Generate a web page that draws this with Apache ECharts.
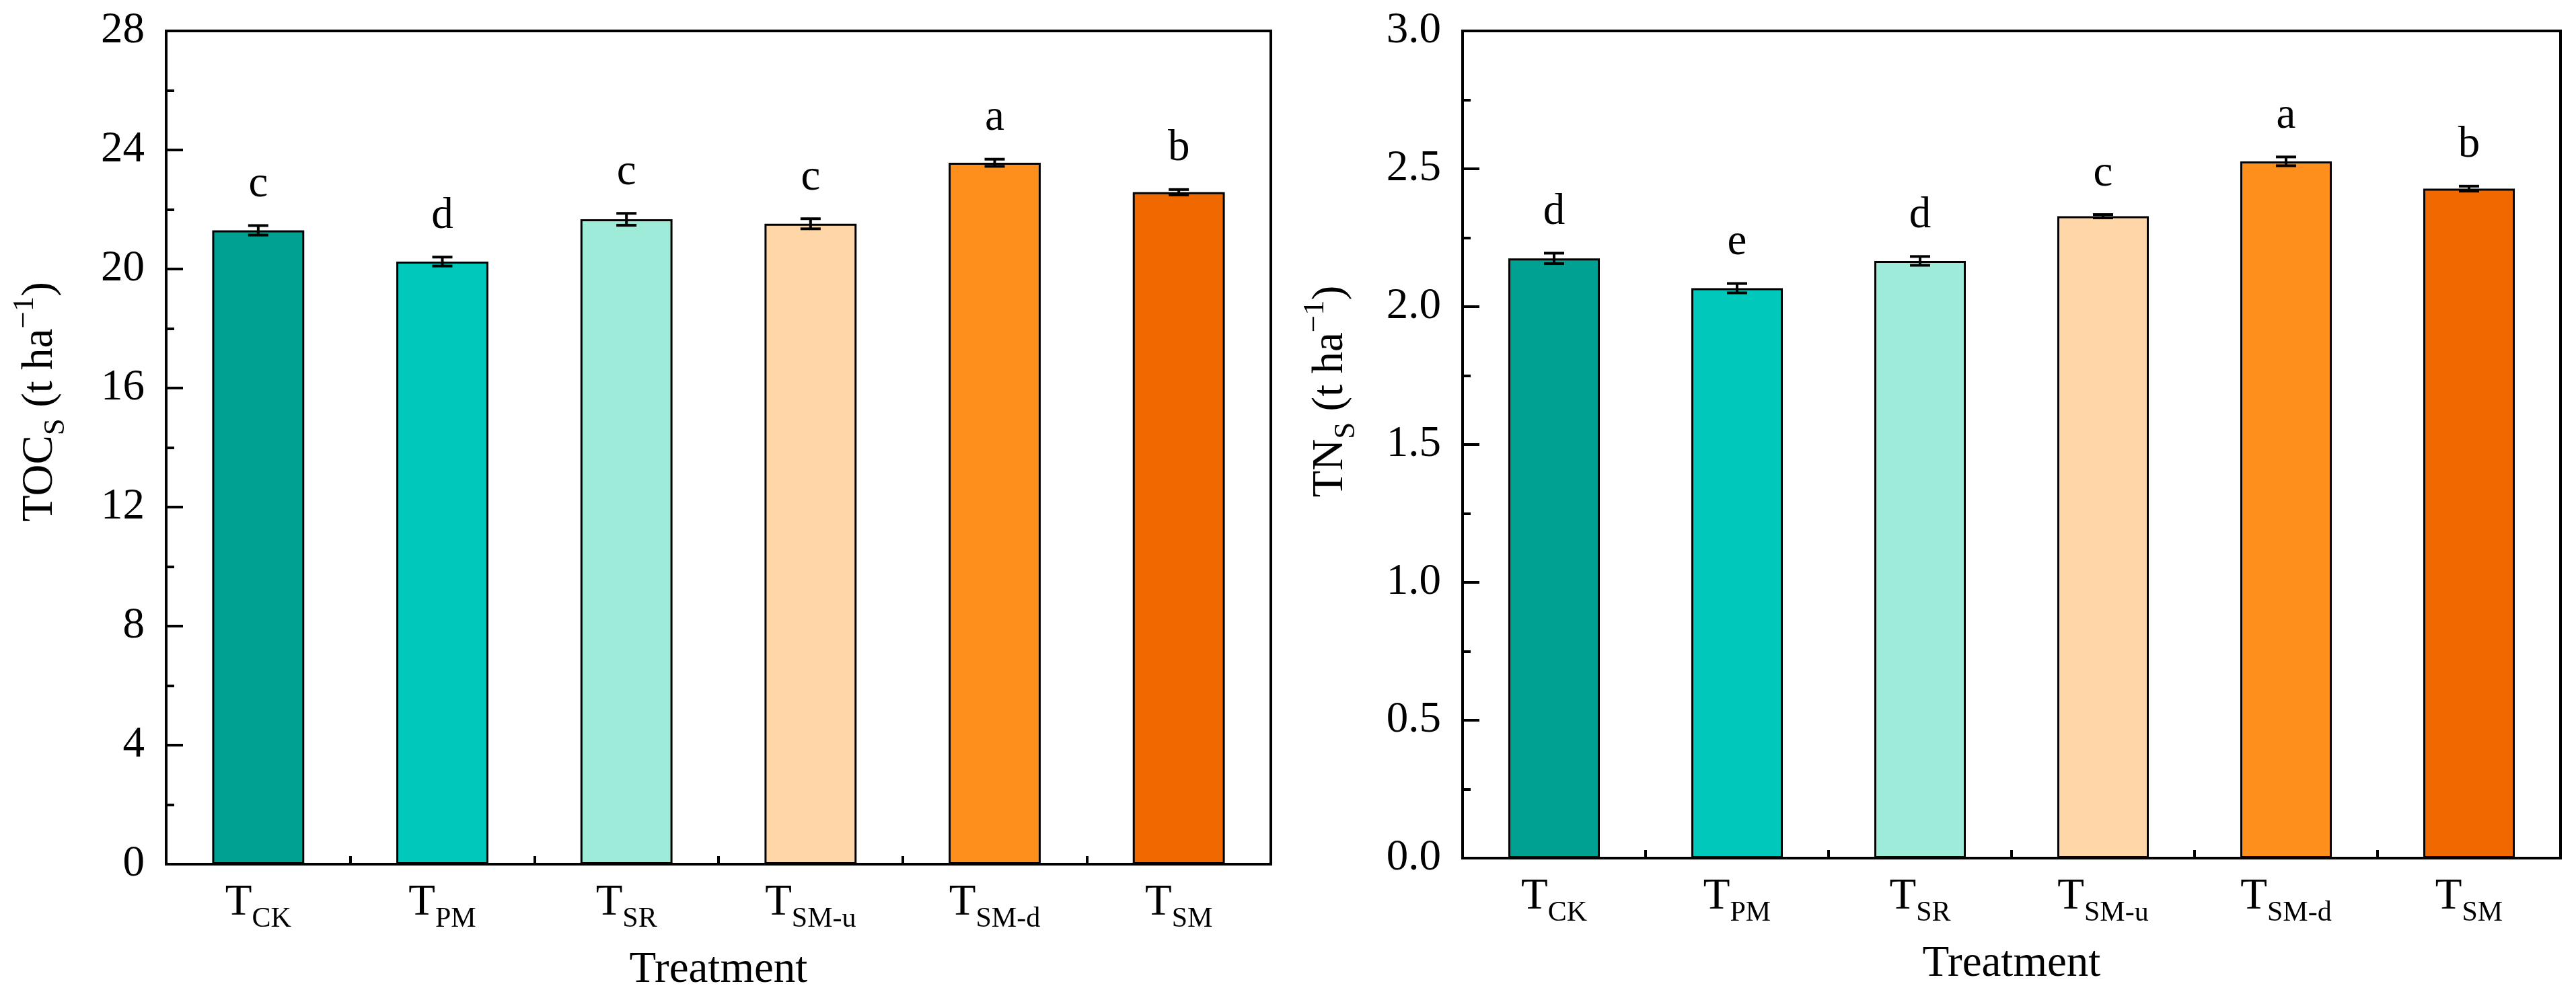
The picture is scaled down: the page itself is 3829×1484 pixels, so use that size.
<!DOCTYPE html>
<html>
<head>
<meta charset="utf-8">
<script src="https://cdn.jsdelivr.net/npm/echarts@6/dist/echarts.min.js"></script>
<style>
  html, body { margin: 0; padding: 0; background: #fff; }
  #chart { width: 3829px; height: 1484px; }
</style>
</head>
<body>
<div id="chart"></div>
<script>
// categories (subscripts of T)
var treatments = ["CK", "PM", "SR", "SM-u", "SM-d", "SM"];
var barColors = ["#00A092", "#00C8BA", "#9FEBDA", "#FFD6A8", "#FF8F1C", "#F06800"];

// TOC_S (t ha-1)
var tocMean = [21.3, 20.25, 21.67, 21.52, 23.57, 22.58];
var tocErr = [0.16, 0.15, 0.2, 0.17, 0.12, 0.09];
var tocLetters = ["c", "d", "c", "c", "a", "b"];

// TN_S (t ha-1)
var tnMean = [2.175, 2.067, 2.166, 2.328, 2.527, 2.428];
var tnErr = [0.019, 0.017, 0.016, 0.006, 0.016, 0.009];
var tnLetters = ["d", "e", "d", "c", "a", "b"];

var FONT = "Liberation Serif";

var chart = echarts.init(document.getElementById("chart"));

function barData(means) {
  return means.map(function (v, i) {
    return { value: v, itemStyle: { color: barColors[i] } };
  });
}

function errData(means, errs) {
  return means.map(function (v, i) {
    return [i, v, errs[i]];
  });
}

// error bar + significance letter
function renderErr(letters) {
  return function (params, api) {
    var i = api.value(0);
    var m = api.value(1);
    var e = api.value(2);
    var hi = api.coord([i, m + e]);
    var lo = api.coord([i, m - e]);
    var cap = 15;
    var ls = { stroke: "#000", lineWidth: 4 };
    return {
      type: "group",
      children: [
        { type: "line", shape: { x1: hi[0], y1: hi[1], x2: lo[0], y2: lo[1] }, style: ls },
        { type: "line", shape: { x1: hi[0] - cap, y1: hi[1], x2: hi[0] + cap, y2: hi[1] }, style: ls },
        { type: "line", shape: { x1: lo[0] - cap, y1: lo[1], x2: lo[0] + cap, y2: lo[1] }, style: ls },
        {
          type: "text",
          x: hi[0],
          y: hi[1] - 28,
          style: {
            text: letters[params.dataIndex],
            fill: "#000",
            fontSize: 65,
            fontFamily: FONT,
            align: "center",
            verticalAlign: "bottom"
          }
        }
      ]
    };
  };
}

var labelRich = {
  m: { fontSize: 65, fontFamily: FONT, color: "#000" },
  s: { fontSize: 42, fontFamily: FONT, color: "#000", padding: [49, 0, 0, 0] }
};

var nameRich = {
  m: { fontSize: 65, fontFamily: FONT, color: "#000" },
  s: { fontSize: 45, fontFamily: FONT, color: "#000", padding: [47, 0, 0, 0] },
  p: { fontSize: 45, fontFamily: FONT, color: "#000", padding: [0, 0, 45, 0] }
};

function xAxes(gridIndex) {
  return [
    {
      type: "category",
      gridIndex: gridIndex,
      data: treatments,
      position: "bottom",
      axisLine: { lineStyle: { color: "#000", width: 4 } },
      axisTick: { show: true, inside: true, length: 12, lineStyle: { color: "#000", width: 4 } },
      axisLabel: {
        margin: 12,
        formatter: function (v) { return "{m|T}{s|" + v + "}"; },
        rich: labelRich
      },
      name: "Treatment",
      nameLocation: "middle",
      nameGap: 125,
      nameTextStyle: { fontSize: 65, fontFamily: FONT, color: "#000" }
    },
    {
      type: "category",
      gridIndex: gridIndex,
      data: treatments,
      position: "bottom",
      axisLine: { show: false },
      axisTick: { show: true, inside: true, alignWithLabel: true, length: 24, lineStyle: { color: "#000", width: 4 } },
      axisLabel: { show: false }
    }
  ];
}

function yAxis(gridIndex, max, interval, name, nameGap, shift, digits) {
  return {
    type: "value",
    gridIndex: gridIndex,
    min: 0,
    max: max,
    interval: interval,
    axisLine: { show: true, lineStyle: { color: "#000", width: 4 } },
    axisTick: { show: true, inside: true, length: 25, lineStyle: { color: "#000", width: 4 } },
    minorTick: { show: true, splitNumber: 2, length: 12, lineStyle: { color: "#000", width: 4 } },
    splitLine: { show: false },
    axisLabel: {
      margin: 32,
      fontSize: 65,
      fontFamily: FONT,
      color: "#000",
      formatter: function (v) { return v.toFixed(digits); }
    },
    name: name,
    nameLocation: "middle",
    nameRotate: 90,
    nameGap: nameGap,
    nameTextStyle: { fontFamily: FONT, rich: nameRich, padding: [0, 0, 0, shift] }
  };
}

var option = {
  backgroundColor: "#fff",
  animation: false,
  textStyle: { fontFamily: FONT },
  grid: [
    { left: 247, top: 46, width: 1642, height: 1239, show: true, borderColor: "#000", borderWidth: 4, backgroundColor: "transparent" },
    { left: 2174, top: 46, width: 1632, height: 1230, show: true, borderColor: "#000", borderWidth: 4, backgroundColor: "transparent" }
  ],
  xAxis: xAxes(0).concat(xAxes(1)),
  yAxis: [
    yAxis(0, 28, 4, "{m|TOC}{s|S}{m| (t ha}{p|−1}{m|)}", 141, 136, 0),
    yAxis(1, 3, 0.5, "{m|TN}{s|S}{m| (t ha}{p|−1}{m|)}", 150, 158, 1)
  ],
  series: [
    {
      type: "bar",
      xAxisIndex: 0,
      yAxisIndex: 0,
      barWidth: "50%",
      data: barData(tocMean),
      itemStyle: { borderColor: "#000", borderWidth: 3 }
    },
    {
      type: "custom",
      xAxisIndex: 0,
      yAxisIndex: 0,
      renderItem: renderErr(tocLetters),
      data: errData(tocMean, tocErr),
      z: 5
    },
    {
      type: "bar",
      xAxisIndex: 2,
      yAxisIndex: 1,
      barWidth: "50%",
      data: barData(tnMean),
      itemStyle: { borderColor: "#000", borderWidth: 3 }
    },
    {
      type: "custom",
      xAxisIndex: 2,
      yAxisIndex: 1,
      renderItem: renderErr(tnLetters),
      data: errData(tnMean, tnErr),
      z: 5
    }
  ]
};

chart.setOption(option);
</script>
</body>
</html>
